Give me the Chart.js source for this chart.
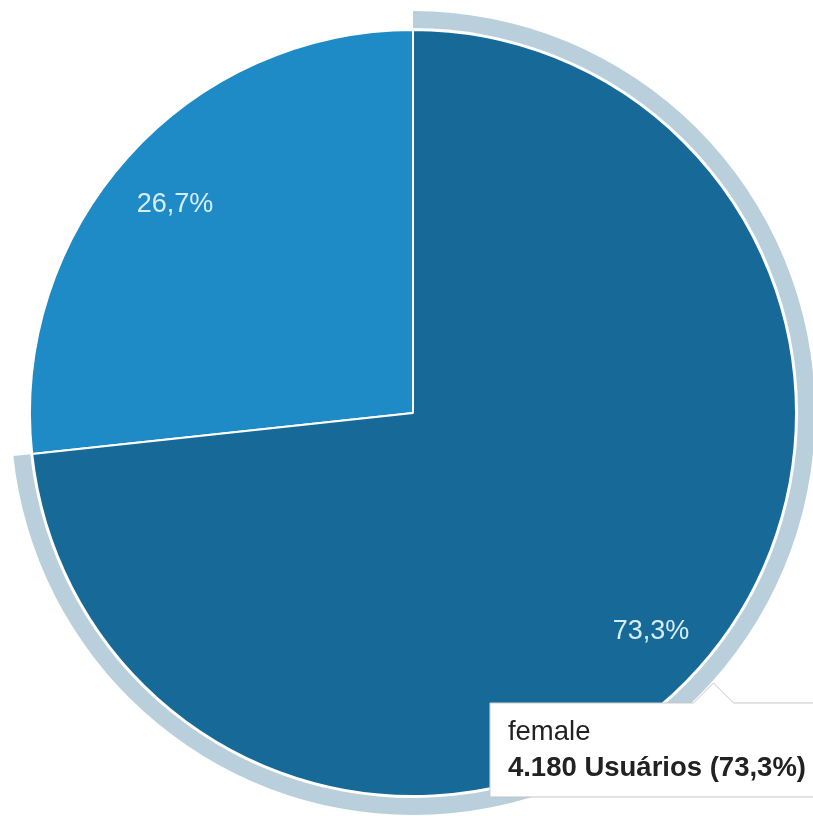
<!DOCTYPE html>
<html>
<head>
<meta charset="utf-8">
<script src="https://cdn.jsdelivr.net/npm/chart.js@4/dist/chart.umd.min.js"></script>
<style>
  html, body { margin: 0; padding: 0; background: #fff; overflow: hidden; }
  #wrap { width: 813px; height: 816px; overflow: hidden; }
  canvas { display: block; }
</style>
</head>
<body>
<div id="wrap"><canvas id="pie" width="850" height="816"></canvas></div>
<script>
var labels = ['female', 'male'];
var users = [4180, 1523];
var sliceColors = ['#176a98', '#1f8bc6'];
var unitLabel = 'Usuários';

var FONT = '"Liberation Sans", Arial, sans-serif';

function pct(v) {
	var total = users.reduce(function (a, b) { return a + b; }, 0);
	return (v / total * 100).toFixed(1).replace('.', ',') + '%';
}

var tipPlugin = (Chart.Tooltip || Chart.registry.plugins.get('tooltip'));
tipPlugin.positioners.ringEdge = function (items) {
	if (!items.length) return false;
	var a = items[0].element;
	var mid = (a.startAngle + a.endAngle) / 2;
	var r = a.outerRadius + 21;
	return { x: a.x + Math.cos(mid) * r, y: a.y + Math.sin(mid) * r };
};

// light ring drawn outside the highlighted slice
var ringPlugin = {
	id: 'ring',
	beforeDatasetsDraw: function (chart) {
		var active = chart.getActiveElements();
		if (!active.length) return;
		var a = active[0].element;
		var ctx = chart.ctx;
		ctx.save();
		ctx.beginPath();
		ctx.arc(a.x, a.y, a.outerRadius + 19, a.startAngle, a.endAngle);
		ctx.arc(a.x, a.y, a.outerRadius + 2, a.endAngle, a.startAngle, true);
		ctx.closePath();
		ctx.fillStyle = '#b9d0dc';
		ctx.fill();
		ctx.restore();
	}
};

var pctLabels = {
	id: 'pctLabels',
	afterDatasetsDraw: function (chart) {
		var ctx = chart.ctx;
		var meta = chart.getDatasetMeta(0);
		ctx.save();
		ctx.font = '27px ' + FONT;
		ctx.fillStyle = '#d6edf9';
		ctx.textAlign = 'center';
		ctx.textBaseline = 'middle';
		meta.data.forEach(function (arc, i) {
			var mid = (arc.startAngle + arc.endAngle) / 2;
			var r = arc.outerRadius * 0.835;
			ctx.fillText(pct(users[i]), arc.x + Math.cos(mid) * r, arc.y + Math.sin(mid) * r + 5);
		});
		ctx.restore();
	}
};

var chart = new Chart(document.getElementById('pie'), {
	type: 'pie',
	data: {
		labels: labels,
		datasets: [{
			data: users,
			backgroundColor: sliceColors,
			hoverBackgroundColor: sliceColors,
			borderColor: '#ffffff',
			hoverBorderColor: '#ffffff',
			borderWidth: 2,
			hoverBorderWidth: 2,
			hoverOffset: 0
		}]
	},
	options: {
		responsive: false,
		animation: false,
		events: [],
		radius: 383,
		layout: { padding: { left: 10, top: 10, right: 34, bottom: 0 } },
		plugins: {
			legend: { display: false },
			tooltip: {
				position: 'ringEdge',
				xAlign: 'center',
				yAlign: 'top',
				backgroundColor: '#ffffff',
				borderColor: '#c6c6c6',
				borderWidth: 1,
				cornerRadius: 0,
				caretSize: 20,
				caretPadding: 0,
				displayColors: false,
				titleColor: '#222222',
				bodyColor: '#222222',
				titleFont: { family: FONT, size: 27.5, weight: 'normal' },
				bodyFont: { family: FONT, size: 27.5, weight: 'bold' },
				titleMarginBottom: 3,
				padding: { left: 18, right: 44, top: 13, bottom: 12 },
				callbacks: {
					title: function (items) { return items[0].label; },
					label: function (item) {
						return item.raw.toLocaleString('pt-BR') + ' ' + unitLabel + ' (' + pct(item.raw) + ')';
					}
				}
			}
		}
	},
	plugins: [ringPlugin, pctLabels]
});

var meta0 = chart.getDatasetMeta(0).data[0];
chart.setActiveElements([{ datasetIndex: 0, index: 0 }]);
chart.tooltip.setActiveElements([{ datasetIndex: 0, index: 0 }], { x: meta0.x, y: meta0.y });
chart.update();
</script>
</body>
</html>
